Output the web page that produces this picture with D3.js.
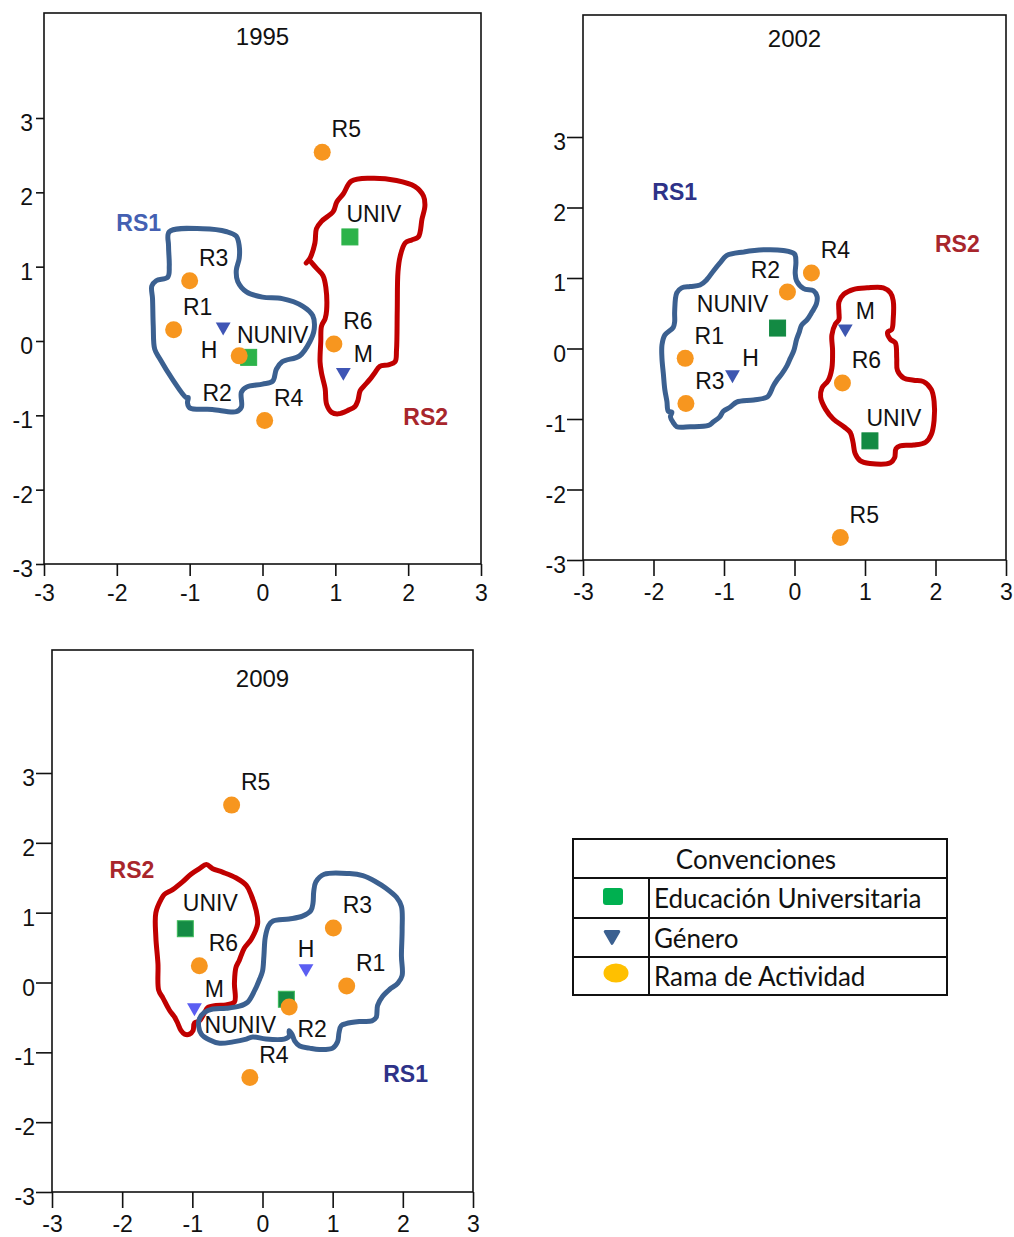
<!DOCTYPE html>
<html><head><meta charset="utf-8">
<script src="https://cdn.jsdelivr.net/npm/d3@7"></script>
<style>
html,body{margin:0;padding:0;background:#fff;}
svg{display:block;}
</style>
</head><body>
<svg id="chart" width="1014" height="1237"></svg>
<script>
// ---------------- DATA ----------------
const years = ["1995", "2002", "2009"];
const categories = ["UNIV", "NUNIV", "H", "M", "R1", "R2", "R3", "R4", "R5", "R6"];
const groupOf = ["edu", "edu", "gen", "gen", "rama", "rama", "rama", "rama", "rama", "rama"];
const tickValues = [-3, -2, -1, 0, 1, 2, 3];

const x1995 = [1.20, -0.19, -0.54, 1.11, -1.22, -0.32, -1.00, 0.03, 0.82, 0.98];
const y1995 = [1.40, -0.22, 0.19, -0.42, 0.15, -0.20, 0.81, -1.07, 2.54, -0.04];
const x2002 = [1.07, -0.24, -0.88, 0.72, -1.55, -0.10, -1.54, 0.24, 0.65, 0.68];
const y2002 = [-1.31, 0.29, -0.37, 0.28, -0.14, 0.80, -0.78, 1.07, -2.68, -0.49];
const x2009 = [-1.10, 0.34, 0.62, -0.97, 1.20, 0.38, 1.01, -0.18, -0.44, -0.90];
const y2009 = [0.77, -0.24, 0.20, -0.36, -0.05, -0.35, 0.78, -1.36, 2.54, 0.24];

// region contours (data coordinates)
const rs1_1995 = [[-1.28,1.47],[-0.82,1.51],[-0.49,1.47],[-0.36,1.41],[-0.32,1.28],[-0.32,1.11],[-0.36,0.95],[-0.34,0.80],[-0.22,0.66],[0.0,0.59],[0.27,0.57],[0.55,0.47],[0.69,0.34],[0.71,0.16],[0.65,-0.01],[0.51,-0.20],[0.27,-0.28],[0.19,-0.38],[0.14,-0.54],[0.0,-0.58],[-0.22,-0.62],[-0.29,-0.69],[-0.29,-0.89],[-0.36,-0.95],[-0.69,-0.92],[-1.0,-0.90],[-1.03,-0.83],[-1.02,-0.76],[-1.05,-0.76],[-1.24,-0.51],[-1.41,-0.24],[-1.48,-0.11],[-1.50,0.20],[-1.51,0.57],[-1.52,0.74],[-1.46,0.81],[-1.30,0.86],[-1.28,1.01],[-1.29,1.28]];
const rs2_1995 = [[0.60,1.05],[0.65,1.11],[0.72,1.32],[0.74,1.51],[0.81,1.61],[0.97,1.74],[1.02,1.87],[1.11,1.98],[1.22,2.15],[1.48,2.19],[1.84,2.16],[2.09,2.08],[2.21,1.95],[2.23,1.82],[2.19,1.64],[2.14,1.40],[2.05,1.36],[1.96,1.32],[1.89,1.14],[1.86,0.93],[1.85,0.41],[1.84,-0.12],[1.82,-0.28],[1.73,-0.32],[1.61,-0.34],[1.54,-0.43],[1.48,-0.51],[1.38,-0.62],[1.34,-0.67],[1.31,-0.80],[1.27,-0.88],[1.18,-0.93],[1.04,-0.98],[0.95,-0.96],[0.88,-0.85],[0.86,-0.64],[0.81,-0.43],[0.79,-0.28],[0.80,-0.01],[0.81,0.20],[0.86,0.30],[0.88,0.41],[0.87,0.72],[0.83,0.88],[0.74,0.98],[0.66,1.07]];
const rs1_2002 = [[-0.96,1.32],[-0.72,1.37],[-0.44,1.40],[-0.16,1.39],[0.0,1.34],[0.02,1.23],[0.01,1.07],[0.03,0.96],[0.13,0.85],[0.27,0.82],[0.32,0.74],[0.31,0.63],[0.25,0.52],[0.18,0.41],[0.10,0.33],[0.07,0.24],[0.03,0.13],[-0.01,-0.03],[-0.06,-0.14],[-0.11,-0.25],[-0.18,-0.36],[-0.25,-0.45],[-0.30,-0.53],[-0.35,-0.64],[-0.39,-0.69],[-0.58,-0.73],[-0.82,-0.76],[-0.91,-0.83],[-1.01,-0.89],[-1.06,-0.97],[-1.15,-1.04],[-1.22,-1.09],[-1.48,-1.11],[-1.67,-1.11],[-1.72,-1.05],[-1.76,-0.97],[-1.74,-0.90],[-1.79,-0.89],[-1.81,-0.75],[-1.84,-0.58],[-1.86,-0.36],[-1.88,-0.14],[-1.88,0.05],[-1.84,0.19],[-1.72,0.30],[-1.70,0.38],[-1.70,0.52],[-1.67,0.79],[-1.60,0.86],[-1.48,0.88],[-1.34,0.90],[-1.25,0.97],[-1.15,1.10],[-1.06,1.21]];
const rs2_2002 = [[0.63,0.66],[0.70,0.77],[0.84,0.84],[1.03,0.86],[1.26,0.86],[1.36,0.79],[1.40,0.68],[1.40,0.41],[1.38,0.27],[1.32,0.23],[1.36,0.13],[1.43,0.08],[1.45,-0.14],[1.46,-0.31],[1.55,-0.42],[1.69,-0.45],[1.83,-0.47],[1.94,-0.58],[1.98,-0.75],[1.98,-1.02],[1.94,-1.22],[1.86,-1.33],[1.69,-1.37],[1.50,-1.38],[1.44,-1.42],[1.42,-1.55],[1.36,-1.62],[1.07,-1.63],[0.93,-1.59],[0.86,-1.49],[0.83,-1.33],[0.79,-1.19],[0.70,-1.11],[0.55,-1.00],[0.44,-0.86],[0.37,-0.69],[0.39,-0.56],[0.48,-0.45],[0.53,-0.28],[0.54,-0.03],[0.53,0.19],[0.58,0.35],[0.63,0.41],[0.63,0.52]];
const rs1_2009 = [[0.76,1.44],[0.88,1.55],[1.24,1.56],[1.43,1.53],[1.62,1.44],[1.76,1.35],[1.91,1.22],[1.98,1.09],[1.99,0.76],[1.98,0.38],[1.99,0.10],[1.93,-0.01],[1.81,-0.10],[1.71,-0.20],[1.64,-0.33],[1.62,-0.50],[1.56,-0.55],[1.38,-0.56],[1.19,-0.59],[1.12,-0.62],[1.09,-0.72],[1.07,-0.85],[1.00,-0.94],[0.81,-0.96],[0.67,-0.94],[0.53,-0.91],[0.46,-0.84],[0.42,-0.74],[0.38,-0.69],[0.38,-0.77],[0.31,-0.81],[0.05,-0.81],[-0.14,-0.78],[-0.23,-0.81],[-0.42,-0.85],[-0.61,-0.87],[-0.76,-0.82],[-0.87,-0.74],[-0.91,-0.63],[-0.90,-0.52],[-0.83,-0.43],[-0.71,-0.38],[-0.52,-0.37],[-0.33,-0.34],[-0.21,-0.28],[-0.11,-0.11],[-0.04,0.05],[0.0,0.16],[0.02,0.38],[0.04,0.65],[0.09,0.82],[0.15,0.88],[0.38,0.91],[0.57,0.95],[0.69,1.03],[0.72,1.14],[0.73,1.30]];
const rs2_2009 = [[-0.40,-0.28],[-0.40,-0.01],[-0.38,0.21],[-0.33,0.32],[-0.26,0.49],[-0.16,0.62],[-0.07,0.84],[-0.09,1.03],[-0.16,1.25],[-0.23,1.39],[-0.38,1.50],[-0.57,1.58],[-0.71,1.63],[-0.80,1.69],[-0.90,1.63],[-1.02,1.55],[-1.14,1.44],[-1.28,1.33],[-1.40,1.26],[-1.44,1.20],[-1.52,1.00],[-1.52,0.65],[-1.49,0.27],[-1.48,-0.11],[-1.42,-0.22],[-1.33,-0.39],[-1.25,-0.50],[-1.21,-0.58],[-1.16,-0.69],[-1.11,-0.74],[-1.04,-0.74],[-0.99,-0.69],[-0.97,-0.58],[-0.90,-0.55],[-0.83,-0.44],[-0.78,-0.36],[-0.66,-0.33],[-0.52,-0.32]];

const rsNames = ["RS1", "RS2"];
const rsLabelX = {"1995": [-1.70, 2.24], "2002": [-1.70, 2.31], "2009": [2.04, -1.86]};
const rsLabelY = {"1995": [1.59, -1.02], "2002": [2.23, 1.48], "2009": [-1.31, 1.61]};

const legendTitle = "Convenciones";
const legendLabels = ["Educación Universitaria", "Género", "Rama de Actividad"];

// ---------------- LAYOUT / STYLE ----------------
const panelLayout = {
  "1995": {left: 44, right: 481, top: 13, bottom: 564, y3: 118, tickY: 8, tickX: 12, padY: 3, padX: 9, titleDy: 23,
           sq: "#2DB34A", sqStroke: "#2DB34A", tri: "#3F55B5", rs1Color: "#4460B2"},
  "2002": {left: 583, right: 1006, top: 15, bottom: 560, y3: 137, tickY: 16, tickX: 16, padY: 1, padX: 8, titleDy: 23,
           sq: "#138A43", sqStroke: "#138A43", tri: "#3D56B0", rs1Color: "#2E3288"},
  "2009": {left: 52, right: 473, top: 650, bottom: 1192, y3: 773, tickY: 16, tickX: 16, padY: 1, padX: 8, titleDy: 28,
           sq: "#148B45", sqStroke: "#3DBB5A", tri: "#5B5EF2", rs1Color: "#2E3288"}
};
const contours = {
  "1995": {rs1: rs1_1995, rs2: rs2_1995, rs2Closed: false},
  "2002": {rs1: rs1_2002, rs2: rs2_2002, rs2Closed: true},
  "2009": {rs1: rs1_2009, rs2: rs2_2009, rs2Closed: true}
};
const pointX = {"1995": x1995, "2002": x2002, "2009": x2009};
const pointY = {"1995": y1995, "2002": y2002, "2009": y2009};
const labelShift = {
  "1995": {H: [-14, 23], R2: [-22, 37], M: [20, -19]},
  "2002": {R2: [-22, -22], NUNIV: [-45, -24], H: [18, -17], M: [20, -18]},
  "2009": {UNIV: [25, -26], M: [20, -19], NUNIV: [-46, 25], R2: [23, 22], H: [0, -20]}
};
const defaultShift = [24, -23];
const FONT = "Arial, 'Liberation Sans', sans-serif";
const FS = 23;
const BLUE_LINE = "#3B6090", RED_LINE = "#C00000", ORANGE = "#F7961F", RS2_COLOR = "#A8262C";

const svg = d3.select("#chart");

years.forEach(year => {
  const L = panelLayout[year];
  const x = d3.scaleLinear().domain([-3, 3]).range([L.left, L.right]);
  const y = d3.scaleLinear().domain([-3, 3]).range([L.bottom, L.y3]);
  const g = svg.append("g");

  // frame
  g.append("rect").attr("x", L.left).attr("y", L.top)
    .attr("width", L.right - L.left).attr("height", L.bottom - L.top)
    .attr("fill", "none").attr("stroke", "#111").attr("stroke-width", 1.6);

  const fmt = d => String(d);
  const ax = g.append("g").attr("transform", `translate(0,${L.bottom})`)
    .call(d3.axisBottom(x).tickValues(tickValues).tickSize(L.tickX).tickPadding(L.padX).tickFormat(fmt));
  const ay = g.append("g").attr("transform", `translate(${L.left},0)`)
    .call(d3.axisLeft(y).tickValues(tickValues).tickSize(L.tickY).tickPadding(L.padY).tickFormat(fmt));
  [ax, ay].forEach(a => {
    a.select(".domain").remove();
    a.selectAll("line").attr("stroke", "#111").attr("stroke-width", 1.6);
    a.selectAll("text").attr("font-family", FONT).attr("font-size", FS).attr("fill", "#111");
  });
  ay.selectAll("text").attr("dy", "0.55em");

  // title
  g.append("text").attr("x", x(0)).attr("y", L.top + L.titleDy).attr("dy", "0.36em")
    .attr("text-anchor", "middle").attr("font-family", FONT).attr("font-size", 24).attr("fill", "#111")
    .text(year);

  // contours
  const C = contours[year];
  const lineClosed = d3.line().x(d => x(d[0])).y(d => y(d[1])).curve(d3.curveCatmullRomClosed.alpha(0.5));
  const lineOpen = d3.line().x(d => x(d[0])).y(d => y(d[1])).curve(d3.curveCatmullRom.alpha(0.5));
  g.append("path").attr("d", (C.rs2Closed ? lineClosed : lineOpen)(C.rs2))
    .attr("fill", "none").attr("stroke", RED_LINE).attr("stroke-width", 5).attr("stroke-linejoin", "round").attr("stroke-linecap", "round");
  g.append("path").attr("d", lineClosed(C.rs1))
    .attr("fill", "none").attr("stroke", BLUE_LINE).attr("stroke-width", 5).attr("stroke-linejoin", "round");

  // points
  const pts = categories.map((c, i) => ({name: c, group: groupOf[i], x: pointX[year][i], y: pointY[year][i]}));
  g.selectAll("rect.sq").data(pts.filter(d => d.group === "edu")).join("rect").attr("class", "sq")
    .attr("x", d => x(d.x) - 8).attr("y", d => y(d.y) - 8).attr("width", 16).attr("height", 16)
    .attr("fill", L.sq).attr("stroke", L.sqStroke).attr("stroke-width", 1);
  const tri = d3.symbol().type(d3.symbolTriangle).size(95);
  g.selectAll("path.tri").data(pts.filter(d => d.group === "gen")).join("path").attr("class", "tri")
    .attr("d", tri).attr("transform", d => `translate(${x(d.x)},${y(d.y)}) rotate(180)`)
    .attr("fill", L.tri);
  g.selectAll("ellipse.circ").data(pts.filter(d => d.group === "rama")).join("ellipse").attr("class", "circ")
    .attr("cx", d => x(d.x)).attr("cy", d => y(d.y)).attr("rx", 8.5).attr("ry", 8.5)
    .attr("fill", ORANGE);

  // labels
  g.selectAll("text.lab").data(pts).join("text").attr("class", "lab")
    .attr("x", d => x(d.x) + (labelShift[year][d.name] || defaultShift)[0])
    .attr("y", d => y(d.y) + (labelShift[year][d.name] || defaultShift)[1])
    .attr("dy", "0.36em").attr("text-anchor", "middle")
    .attr("font-family", FONT).attr("font-size", FS).attr("fill", "#111")
    .text(d => d.name);

  // region labels
  rsNames.forEach((n, i) => {
    g.append("text").attr("x", x(rsLabelX[year][i])).attr("y", y(rsLabelY[year][i])).attr("dy", "0.36em")
      .attr("text-anchor", "middle").attr("font-family", FONT).attr("font-weight", "bold").attr("font-size", 23)
      .attr("fill", i === 0 ? L.rs1Color : RS2_COLOR).text(n);
  });
});

// ---------------- LEGEND ----------------
const lg = svg.append("g");
const LG = {left: 573, right: 947, top: 839, header: 878, rows: [878, 918, 957, 995], divider: 649};
lg.append("rect").attr("x", LG.left).attr("y", LG.top).attr("width", LG.right - LG.left).attr("height", LG.rows[3] - LG.top)
  .attr("fill", "none").attr("stroke", "#111").attr("stroke-width", 2);
LG.rows.slice(0, 3).forEach(r => lg.append("line").attr("x1", LG.left).attr("x2", LG.right).attr("y1", r).attr("y2", r)
  .attr("stroke", "#111").attr("stroke-width", 2));
lg.append("line").attr("x1", LG.divider).attr("x2", LG.divider).attr("y1", LG.header).attr("y2", LG.rows[3])
  .attr("stroke", "#111").attr("stroke-width", 2);
const LFONT = "Lato, 'Open Sans', sans-serif";
lg.append("text").attr("x", (LG.left + LG.right) / 2 - 4).attr("y", (LG.top + LG.header) / 2 + 1).attr("dy", "0.36em")
  .attr("text-anchor", "middle").attr("font-family", LFONT).attr("font-size", 26).attr("fill", "#111").text(legendTitle);
legendLabels.forEach((t, i) => {
  const cy = (LG.rows[i] + LG.rows[i + 1]) / 2;
  lg.append("text").attr("x", LG.divider + 5).attr("y", cy + 1).attr("dy", "0.36em")
    .attr("font-family", LFONT).attr("font-size", 26).attr("fill", "#111").text(t);
  const sx = (LG.left + LG.divider) / 2 + 2;
  if (i === 0) {
    lg.append("rect").attr("x", sx - 10).attr("y", cy - 10).attr("width", 20).attr("height", 17).attr("rx", 3)
      .attr("fill", "#00B050");
  } else if (i === 1) {
    lg.append("path").attr("d", d3.symbol().type(d3.symbolTriangle).size(80)).attr("stroke", "#3B6090").attr("stroke-width", 3)
      .attr("stroke-linejoin", "round").attr("transform", `translate(${sx - 1},${cy - 2}) rotate(180)`).attr("fill", "#3B6090");
  } else {
    lg.append("ellipse").attr("cx", sx + 3).attr("cy", cy - 3).attr("rx", 12.5).attr("ry", 9.5).attr("fill", "#FFC000");
  }
});
</script>
</body></html>
